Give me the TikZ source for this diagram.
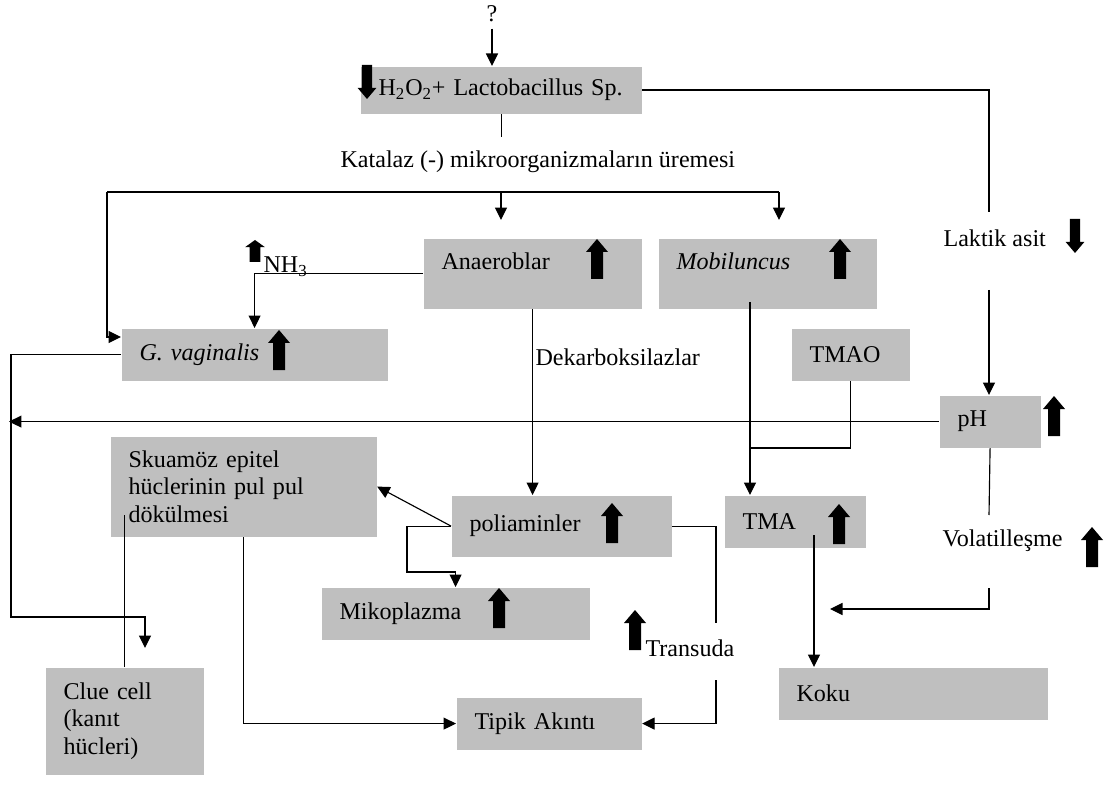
\documentclass[tikz,border=0pt]{standalone}
\usepackage{fontspec}
\setmainfont{Liberation Serif}
\usetikzlibrary{arrows.meta}

\definecolor{boxgray}{RGB}{191,191,191}

\tikzset{
  gbox/.style 2 args={fill=boxgray, anchor=north west, inner xsep=0.36cm, inner ysep=0pt,
    align=left, minimum width=#1*0.02cm, text width=#1*0.02cm-0.72cm, minimum height=#2*0.02cm},
  lbl/.style={inner sep=0pt, anchor=west},
  uparr/.pic={\fill (0,-20) -- (11,-7) -- (6,-7) -- (6,20) -- (-6,20) -- (-6,-7) -- (-11,-7) -- cycle;},
  downarr/.pic={\fill (0,20) -- (11,7) -- (6,7) -- (6,-20) -- (-6,-20) -- (-6,7) -- (-11,7) -- cycle;},
}

\begin{document}
\begin{tikzpicture}[x=0.02cm, y=-0.02cm, line width=0.65pt,
  >={Triangle[length=0.25cm,width=0.24cm]},
  font=\fontsize{13.7}{15.8}\selectfont]
\useasboundingbox (0,0) rectangle (1104,810);

% boxes
\node[gbox={281}{47}, inner xsep=0.34cm] (h2o2) at (360,66) {H\textsubscript{2}O\textsubscript{2}+ Lactobacillus Sp.};
\node[gbox={218}{70}, text depth=0.5cm] (anaer) at (423,238) {Anaeroblar};
\node[gbox={218}{70}, text depth=0.5cm] (mob) at (658,238) {\textit{Mobiluncus}};
\node[gbox={266}{52}] (gvag) at (121,328) {\textit{G. vaginalis}};
\node[gbox={118}{52}] (tmao) at (791,328) {TMAO};
\node[gbox={101}{52}] (ph) at (939,395) {pH};
\node[gbox={266}{100}] (skua) at (110,436) {Skuamöz epitel\\hüclerinin pul pul\\dökülmesi};
\node[gbox={220}{61}] (poli) at (451,495) {poliaminler};
\node[gbox={141}{52}] (tma) at (724,495) {TMA};
\node[gbox={268}{52}] (mik) at (321,587) {Mikoplazma};
\node[gbox={158}{107}] (clue) at (45,667) {Clue cell\\(kanıt\\hücleri)};
\node[gbox={185}{52}] (tipik) at (456,697) {Tipik Akıntı};
\node[gbox={269}{52}] (koku) at (778,667) {Koku};

% free texts
\node (q) at (492,14) {?};
\node[lbl] (katalaz) at (340,162) {Katalaz (-) mikroorganizmaların üremesi};
\node[lbl] (laktik) at (943,238) {Laktik asit};
\node[lbl] (nh3) at (263,267) {NH\textsubscript{3}};
\node[lbl] (dekarb) at (535,357) {Dekarboksilazlar};
\node[lbl] (volat) at (942,541) {Volatilleşme};
\node[lbl] (transuda) at (645,648) {Transuda};

% thick arrows
\pic[scale=0.85] at (367,82) {downarr};
\pic[scale=0.85] at (1075,236) {downarr};
\pic[xscale=0.9, yscale=0.55] at (255,251) {uparr};
\pic at (279,350) {uparr};
\pic at (597,259) {uparr};
\pic at (840,259) {uparr};
\pic at (1054,416) {uparr};
\pic at (612,523) {uparr};
\pic at (839,524) {uparr};
\pic at (1092,547) {uparr};
\pic at (499,608) {uparr};
\pic at (635,630) {uparr};

% free ends
\coordinate (katTop) at (501,137);
\coordinate (lakTop) at (989,212);
\coordinate (lakBot) at (989,290);
\coordinate (distL) at (107,192);
\coordinate (distA) at (501,192);
\coordinate (distM) at (779,192);
\coordinate (mobIn) at (750,302);
\coordinate (tmaoJ) at (750,448);
\coordinate (leftTip) at (9,422);
\coordinate (gvBend) at (11,617);
\coordinate (clueTip) at (145,648);
\coordinate (volTop) at (989,515);
\coordinate (volBot) at (989,588);
\coordinate (odorTip) at (830,609);
\coordinate (pmBend) at (407,572);
\coordinate (trTop) at (716,623);
\coordinate (trBot) at (716,680);
\coordinate (clueUp) at (124,515);
\coordinate (tmaIn) at (814,535);

% connectors
\draw[->] (q.south) -- (q |- h2o2.north);
\draw (h2o2.south) -- (h2o2.south |- katTop);
\draw (h2o2.east) -| (lakTop);
\draw[->] (lakBot) -- (lakBot |- ph.north);
\draw (distL) -- (distM);
\draw[->, shorten >=0.36cm] (distA) -- (distA |- anaer.north);
\draw[->, shorten >=0.36cm] (distM) -- (distM |- mob.north);
\draw[->] (distL) |- ([yshift=-0.18cm]gvag.north west);
\draw[->] (anaer.west) -| (gvag.north);
\draw[->] (anaer.south) -- (anaer.south |- poli.north);
\draw[->] (mobIn) -- (mobIn |- tma.north);
\draw (tmao.south) |- (tmaoJ);
\draw[->] (ph.west) -- (ph.west -| leftTip);
\draw[->] (gvag.west) -| (gvBend) -| (clueTip);
\draw (ph.south) -- (volTop);
\draw[->] (volBot) |- (odorTip);
\draw[->] (poli.west) -- (skua.east);
\draw[->] (poli.west) -| (pmBend) -| (mik.north);
\draw (poli.east) -| (trTop);
\draw[->] (trBot) |- (tipik.east);
\draw[->] (skua.south) |- (tipik.west);
\draw (clue.north) -- (clue.north |- clueUp);
\draw[->] (tmaIn) -- (tmaIn |- koku.north);
\end{tikzpicture}
\end{document}
